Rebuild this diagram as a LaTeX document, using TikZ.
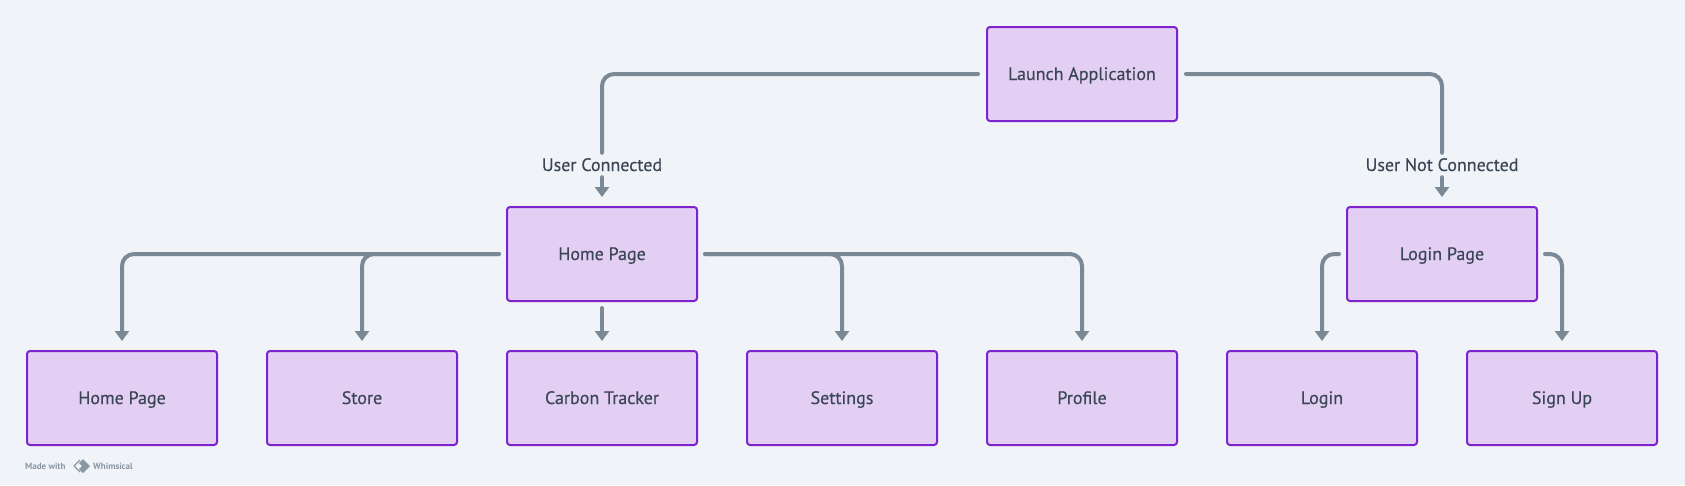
\documentclass[tikz,border=0pt]{standalone}
\usepackage{fontspec}
\setmainfont{PT Sans}
\newfontfamily\medfont{PT Sans}[FakeBold=0.35]
\usetikzlibrary{arrows.meta}
\definecolor{bg}{HTML}{F0F4F8}
\definecolor{boxfill}{HTML}{E3CFF4}
\definecolor{boxline}{HTML}{7E22CE}
\definecolor{txt}{HTML}{3B4655}
\definecolor{lin}{HTML}{7B8996}
\definecolor{wm}{HTML}{8A96A3}
\begin{document}
\begin{tikzpicture}[x=1pt,y=-1pt,
  box/.style={draw=boxline, fill=boxfill, line width=2pt, rounded corners=3pt,
    minimum width=190pt, minimum height=94pt, inner sep=0pt, text=txt,
    text height=14pt, text depth=2pt,
    font=\medfont\fontsize{18}{22}\selectfont},
  lbl/.style={inner sep=0pt, text height=14pt, text depth=2pt, minimum height=24pt, text=txt,
    font=\medfont\fontsize{18}{22}\selectfont},
  conn/.style={draw=lin, line width=4pt, rounded corners=12pt, line cap=round},
  arr/.style={conn, -{Triangle[width=14pt,length=10pt]}, shorten >=9pt}]
\fill[bg] (0,0) rectangle (1685,485);
\useasboundingbox (0,0) rectangle (1685,485);

\node[box] (launch) at (1082,74) {Launch Application};
\node[box] (home) at (602,254) {Home Page};
\node[box] (login) at (1442,254) {Login Page};
\node[box] (hp2) at (122,398) {Home Page};
\node[box] (store) at (362,398) {Store};
\node[box] (ct) at (602,398) {Carbon Tracker};
\node[box] (set) at (842,398) {Settings};
\node[box] (prof) at (1082,398) {Profile};
\node[box] (lg) at (1322,398) {Login};
\node[box] (su) at (1562,398) {Sign Up};

\node[lbl] (lblUC) at (602,165) {User Connected};
\node[lbl] (lblUNC) at (1442,165) {User Not Connected};

\draw[conn] ([xshift=-8pt]launch.west) -| (lblUC.north);
\draw[arr] (lblUC.south) -- (home.north);
\draw[conn] ([xshift=8pt]launch.east) -| (lblUNC.north);
\draw[arr] (lblUNC.south) -- (login.north);

\draw[arr] ([xshift=-7pt]home.west) -| (hp2.north);
\draw[arr] ([xshift=-7pt]home.west) -| (store.north);
\draw[arr, shorten <=6pt] (home.south) -- (ct.north);
\draw[arr] ([xshift=7pt]home.east) -| (set.north);
\draw[arr] ([xshift=7pt]home.east) -| (prof.north);

\draw[arr] ([xshift=-7pt]login.west) -| (lg.north);
\draw[arr] ([xshift=7pt]login.east) -| (su.north);

\node[anchor=west, inner sep=0pt, text=wm, font=\fontsize{9}{10}\selectfont\bfseries] (made) at (25,466) {Made with};
\fill[wm] (83,459) -- (90,466) -- (83,473) -- (79,469) -- (82,466) -- (79,463) -- cycle;
\draw[wm, line width=1.3pt, line join=round] (80,460) -- (74,466) -- (80,472);
\node[anchor=west, inner sep=0pt, text=wm, font=\fontsize{9}{10}\selectfont\bfseries] (whim) at (93,466) {Whimsical};
\end{tikzpicture}
\end{document}
